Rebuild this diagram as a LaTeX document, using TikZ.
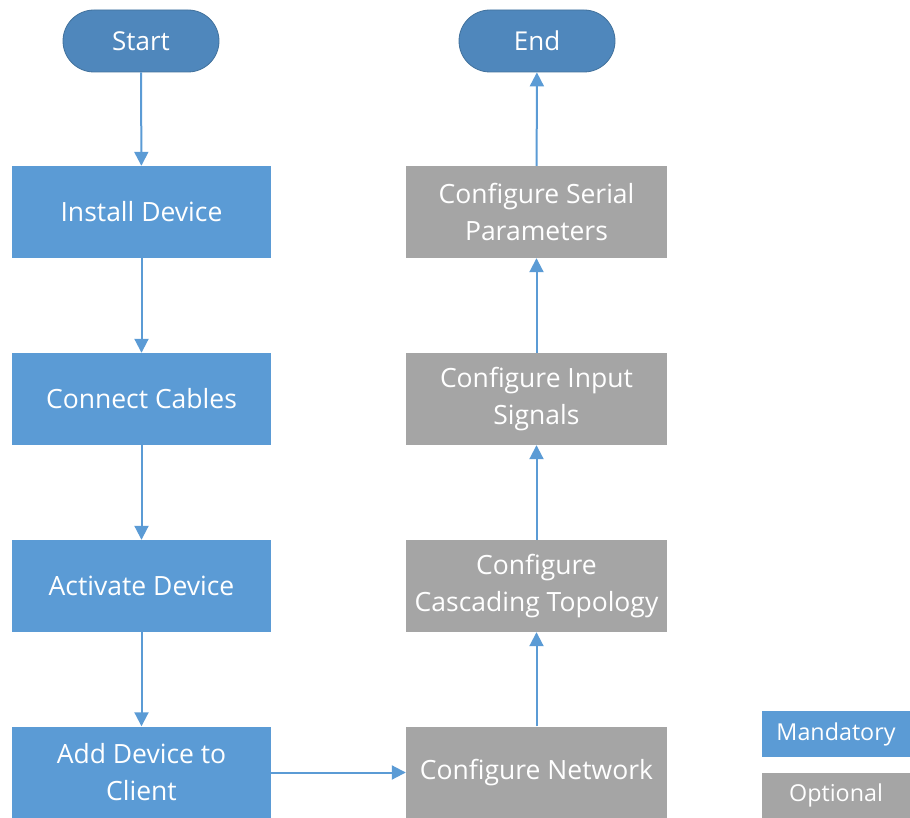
\documentclass[tikz,border=0pt]{standalone}
\usepackage{fontspec}
\setmainfont{Open Sans}
\usepackage{tikz}
\usetikzlibrary{arrows.meta,calc,positioning,shapes}
\definecolor{mandblue}{HTML}{5B9BD5}
\definecolor{termblue}{HTML}{4F87BC}
\definecolor{termedge}{HTML}{41719C}
\definecolor{optgray}{HTML}{A5A5A5}
\tikzstyle{terminal}=[
  draw=termedge,
  fill=termblue,
  font={\fontsize{26}{30}\selectfont},
  text=white,
  minimum height=62pt,
  minimum width=156pt,
  rounded corners=31pt,
  rectangle,
  thick,
]
\tikzstyle{element}=[
  fill=mandblue,
  font={\fontsize{26.5}{37}\selectfont},
  text=white,
  inner sep=0pt,
  minimum height=92pt,
  minimum width=259pt,
  align=center,
  rectangle,
]
\tikzstyle{optional}=[
  element,
  fill=optgray,
  minimum width=261pt,
]
\tikzstyle{legend}=[
  font={\fontsize{23.3}{26}\selectfont},
  text=white,
  inner sep=0pt,
  minimum height=46pt,
  minimum width=148pt,
  rectangle,
]
\tikzstyle{arrow}=[
  draw=mandblue,
  line width=2pt,
  -{Triangle[width=14pt,length=14pt]},
]
\begin{document}
\begin{tikzpicture}[x=1pt,y=-1pt]
    \useasboundingbox (0,0) rectangle (910,818);
    \node (start) [terminal] at (141,41) {Start};
    \node (end) [terminal] at (537,41) {End};
    \node (install) [element] at (141.5,212) {Install Device};
    \node (cables) [element] at (141.5,399) {Connect Cables};
    \node (activate) [element] at (141.5,586) {Activate Device};
    \node (client) [element] at (141.5,772.5) {Add Device to\\Client};
    \node (network) [optional] at (536.5,772.5) {Configure Network};
    \node (cascade) [optional] at (536.5,586) {Configure\\Cascading Topology};
    \node (input) [optional] at (536.5,399) {Configure Input\\Signals};
    \node (serial) [optional] at (536.5,212) {Configure Serial\\Parameters};
    \node (mandatory) [legend, fill=mandblue] at (836,734) {Mandatory};
    \node (opt) [legend, fill=optgray] at (836,795.5) {Optional};
    \draw [arrow] (start) -- (install);
    \draw [arrow] (install) -- (cables);
    \draw [arrow] (cables) -- (activate);
    \draw [arrow] (activate) -- (client);
    \draw [arrow] (client) -- (network);
    \draw [arrow] (network) -- (cascade);
    \draw [arrow] (cascade) -- (input);
    \draw [arrow] (input) -- (serial);
    \draw [arrow] (serial) -- (end);
  \end{tikzpicture}
\end{document}
